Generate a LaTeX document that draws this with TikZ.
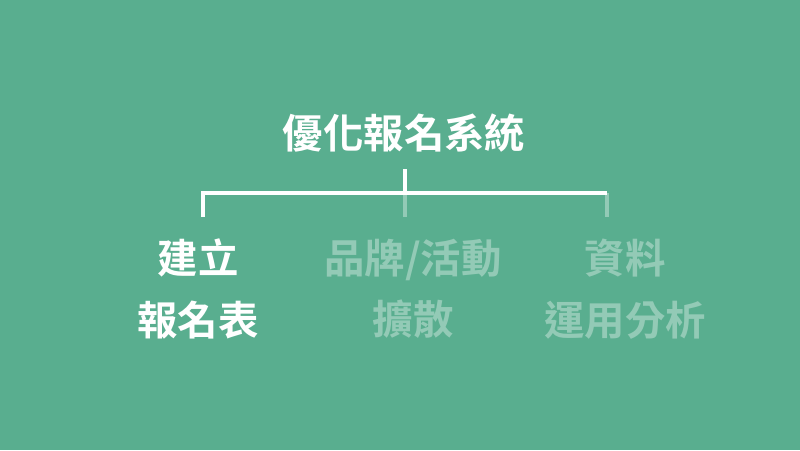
\documentclass[tikz,border=0pt]{standalone}
\usepackage{fontspec}
\setmainfont{Noto Sans CJK TC Bold}
\newfontfamily\cjk{Noto Sans CJK TC Bold}
\definecolor{bggreen}{RGB}{89,174,143}
\colorlet{fadedwhite}{white!35!bggreen}

\begin{document}
\begin{tikzpicture}[x=0.02cm, y=-0.02cm,
		label/.style={align=center, font=\cjk\fontsize{23}{35}\selectfont},
		branch/.style={line width=2.3pt}]
					\fill[bggreen] (0,0) rectangle (800,450);
					\useasboundingbox (0,0) rectangle (800,450);
					
					\coordinate (T) at (405,169);
					\coordinate (M) at (405,193);
					\coordinate (L) at (203,193);
					\coordinate (R) at (607,193);
					\coordinate (Lb) at (203,217);
					\coordinate (Mb) at (405,217);
					\coordinate (Rb) at (607,217);
					
					\draw[branch, fadedwhite] (M) -- (Mb);
					\draw[branch, fadedwhite] (R) -- (Rb);
					\draw[branch, white] (T) -- (M);
					\draw[branch, white, line join=miter] (Lb) -- (L) -- (R);
					
					\node[label, white] (title) at (404,133) {優化報名系統};
					\node[label, white] (build) at (198,289) {建立\\報名表};
					\node[label, fadedwhite] (brand) at (413,289) {品牌/活動\\擴散};
					\node[label, fadedwhite] (data) at (625,289) {資料\\運用分析};
				\end{tikzpicture}
\end{document}
